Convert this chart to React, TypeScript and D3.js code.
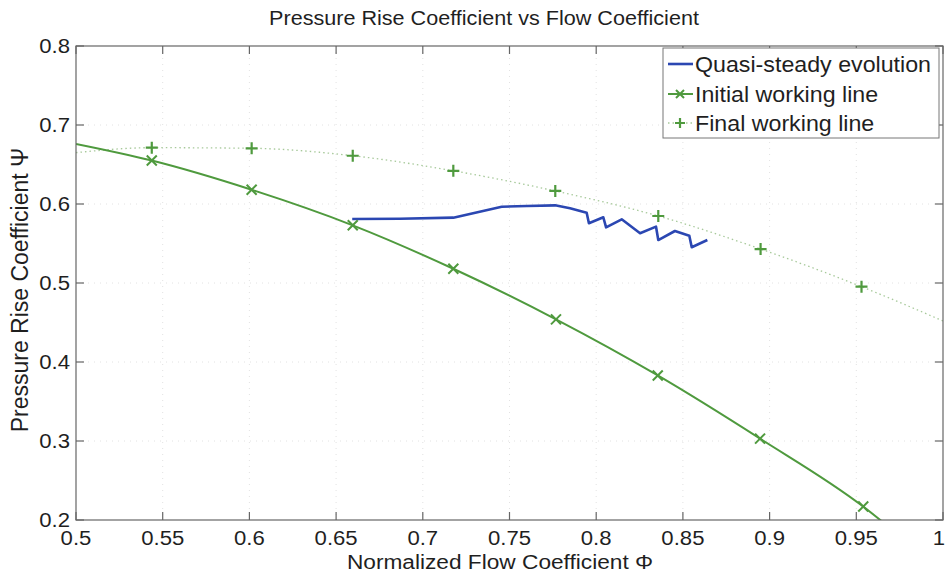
import React from 'react';
import * as d3 from 'd3';

// values
const xTicks = [0.5, 0.55, 0.6, 0.65, 0.7, 0.75, 0.8, 0.85, 0.9, 0.95, 1];
const yTicks = [0.2, 0.3, 0.4, 0.5, 0.6, 0.7, 0.8];

// initial working line (x markers)
const initialPhi = [0.5437, 0.6013, 0.6596, 0.7176, 0.7768, 0.8355, 0.8945, 0.954];
const initialPsi = [0.655, 0.618, 0.573, 0.518, 0.454, 0.383, 0.303, 0.217];
// where the fitted curve meets the plot edges
const initialEnds = [
  [0.5, 0.676],
  [0.975, 0.18],
];

// final working line (+ markers)
const finalPhi = [0.5437, 0.6013, 0.6596, 0.7176, 0.7764, 0.8358, 0.8948, 0.953];
const finalPsi = [0.6713, 0.6705, 0.6611, 0.642, 0.6165, 0.5848, 0.543, 0.4953];
const finalEnds = [
  [0.5, 0.665],
  [1.0, 0.452],
];

// quasi-steady evolution
const quasiPhi = [0.6593, 0.6868, 0.7176, 0.7455, 0.76, 0.7763, 0.7849, 0.7945, 0.7958, 0.8041, 0.8057,
  0.8147, 0.8253, 0.8345, 0.8358, 0.8454, 0.8537, 0.8551, 0.8641];
const quasiPsi = [0.581, 0.5814, 0.5827, 0.5966, 0.5975, 0.5983, 0.5946, 0.589, 0.5756, 0.5832, 0.5705,
  0.5806, 0.5629, 0.5713, 0.5544, 0.5658, 0.5599, 0.5452, 0.5544];

const W = 946;
const H = 577;
const left = 76;
const right = 943;
const top = 46;
const bottom = 520;

const GREEN = '#4f9a3e';
const LIGHTGREEN = '#a7c99a';
const BLUE = '#2b47b2';
const TEXT = '#1f1f1f';
const FONT = '"Liberation Sans", Arial, Helvetica, sans-serif';
const SX = 1.08; // the original figure is slightly stretched sideways

const T = ({ x, y, size, anchor = 'start', rotate = 0, children }: any) => (
  <text
    transform={`translate(${x},${y}) rotate(${rotate}) scale(${rotate ? 1 : SX},${rotate ? SX : 1})`}
    fontSize={size}
    fontFamily={FONT}
    fill={TEXT}
    textAnchor={anchor}
  >
    {children}
  </text>
);

const XMark = ({ x, y, s = 5 }: any) => (
  <path d={`M${x - s},${y - s}L${x + s},${y + s}M${x - s},${y + s}L${x + s},${y - s}`} stroke={GREEN} strokeWidth={2} />
);
const PlusMark = ({ x, y, s = 6 }: any) => (
  <path d={`M${x - s},${y}L${x + s},${y}M${x},${y - s}L${x},${y + s}`} stroke={GREEN} strokeWidth={2.2} />
);

export default function App() {
  const x = d3.scaleLinear().domain([0.5, 1]).range([left, right]);
  const y = d3.scaleLinear().domain([0.2, 0.8]).range([bottom, top]);

  const initPts: [number, number][] = [
    initialEnds[0] as [number, number],
    ...initialPhi.map((p, i) => [p, initialPsi[i]] as [number, number]),
    initialEnds[1] as [number, number],
  ];
  const finalPts: [number, number][] = [
    finalEnds[0] as [number, number],
    ...finalPhi.map((p, i) => [p, finalPsi[i]] as [number, number]),
    finalEnds[1] as [number, number],
  ];
  const quasiPts: [number, number][] = quasiPhi.map((p, i) => [p, quasiPsi[i]]);

  const smooth = d3.line<[number, number]>().x(d => x(d[0])).y(d => y(d[1])).curve(d3.curveMonotoneX);
  const straight = d3.line<[number, number]>().x(d => x(d[0])).y(d => y(d[1]));

  const legX = 663;
  const legY = 48;

  return (
    <div style={{ position: 'absolute', left: 0, top: 0 }}>
      <svg width={W} height={H} style={{ display: 'block', background: '#fff' }}>
        <defs>
          <clipPath id="plot">
            <rect x={left} y={top} width={right - left} height={bottom - top} />
          </clipPath>
        </defs>

        {/* grid */}
        {xTicks.slice(1, -1).map(t => (
          <line key={'gx' + t} x1={x(t)} x2={x(t)} y1={top} y2={bottom} stroke="#e2e2e2" strokeWidth={1} strokeDasharray="1,5" />
        ))}
        {yTicks.slice(1, -1).map(t => (
          <line key={'gy' + t} x1={left} x2={right} y1={y(t)} y2={y(t)} stroke="#e2e2e2" strokeWidth={1} strokeDasharray="1,5" />
        ))}

        {/* series */}
        <g clipPath="url(#plot)">
          <path d={smooth(finalPts) || ''} fill="none" stroke={LIGHTGREEN} strokeWidth={1.3} strokeDasharray="1.5,3" />
          <path d={smooth(initPts) || ''} fill="none" stroke={GREEN} strokeWidth={2} />
          <path d={straight(quasiPts) || ''} fill="none" stroke={BLUE} strokeWidth={2.6} strokeLinejoin="round" />
        </g>
        {finalPhi.map((p, i) => (
          <PlusMark key={'f' + i} x={x(p)} y={y(finalPsi[i])} />
        ))}
        {initialPhi.map((p, i) => (
          <XMark key={'i' + i} x={x(p)} y={y(initialPsi[i])} />
        ))}

        {/* box + ticks */}
        <rect x={left} y={top} width={right - left} height={bottom - top} fill="none" stroke="#666" strokeWidth={1.2} />
        {xTicks.map((t, i) => (
          <g key={'tx' + t}>
            <line x1={x(t)} x2={x(t)} y1={bottom} y2={bottom - 8} stroke="#666" strokeWidth={1.2} />
            <line x1={x(t)} x2={x(t)} y1={top} y2={top + 8} stroke="#666" strokeWidth={1.2} />
            {i === xTicks.length - 1 ? (
              <T x={W - 1} y={545} size={20.5} anchor="end">{String(t)}</T>
            ) : (
              <T x={x(t)} y={545} size={20.5} anchor="middle">{String(t)}</T>
            )}
          </g>
        ))}
        {yTicks.map(t => (
          <g key={'ty' + t}>
            <line x1={left} x2={left + 8} y1={y(t)} y2={y(t)} stroke="#666" strokeWidth={1.2} />
            <line x1={right} x2={right - 8} y1={y(t)} y2={y(t)} stroke="#666" strokeWidth={1.2} />
            <T x={70} y={y(t) + 7} size={20.5} anchor="end">{t.toFixed(1)}</T>
          </g>
        ))}

        {/* titles */}
        <T x={484} y={25} size={20} anchor="middle">Pressure Rise Coefficient vs Flow Coefficient</T>
        <T x={500} y={569} size={21} anchor="middle">Normalized Flow Coefficient  Φ</T>
        <T x={28} y={290} size={23} anchor="middle" rotate={-90}>Pressure Rise Coefficient  Ψ</T>

        {/* legend */}
        <rect x={legX} y={legY} width={276} height={90} fill="#fff" stroke="#777" strokeWidth={1} />
        <line x1={legX + 5} x2={legX + 30} y1={legY + 16} y2={legY + 16} stroke={BLUE} strokeWidth={2.6} />
        <T x={legX + 32} y={legY + 24} size={21.5}>Quasi-steady evolution</T>
        <line x1={legX + 5} x2={legX + 30} y1={legY + 46} y2={legY + 46} stroke={GREEN} strokeWidth={2} />
        <XMark x={legX + 17} y={legY + 46} s={4} />
        <T x={legX + 32} y={legY + 54} size={21.5}>Initial working line</T>
        <line x1={legX + 5} x2={legX + 30} y1={legY + 75} y2={legY + 75} stroke={LIGHTGREEN} strokeWidth={1.3} strokeDasharray="1.5,3" />
        <PlusMark x={legX + 17} y={legY + 75} s={5} />
        <T x={legX + 32} y={legY + 83} size={21.5}>Final working line</T>
      </svg>
    </div>
  );
}
